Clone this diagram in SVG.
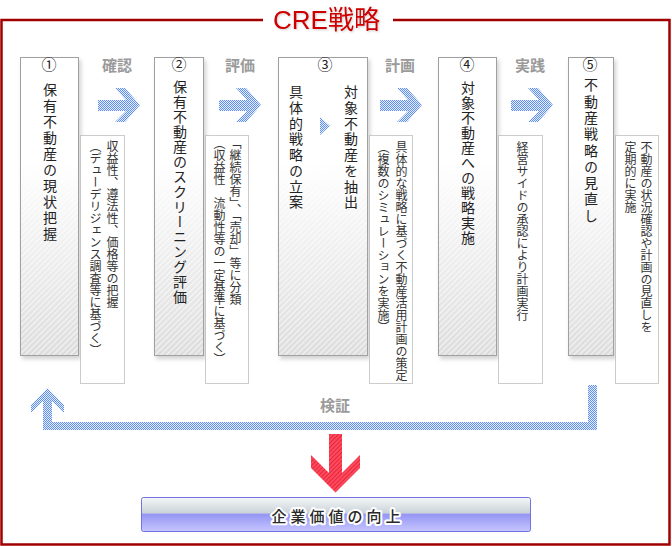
<svg xmlns="http://www.w3.org/2000/svg" width="672" height="546" viewBox="0 0 672 546">
<style>
.frame{fill:none;stroke:#a00000;stroke-width:2.5}
.title{font-family:"Liberation Sans","Noto Sans CJK JP",sans-serif;font-size:26px;fill:#cc0000}
.box{stroke:#a0a0a0;stroke-width:1}
.num{font-family:"Noto Sans CJK JP",sans-serif;font-size:15px;fill:#222;text-anchor:middle}
.vt{font-family:"Liberation Sans","Noto Sans CJK JP",sans-serif;font-size:14px;fill:#222;writing-mode:vertical-rl}
.note{fill:#fff;stroke:#999;stroke-width:1;stroke-dasharray:1 1}
.nt{font-family:"Liberation Sans","Noto Sans CJK JP",sans-serif;font-size:12px;fill:#333;writing-mode:vertical-rl}
.lbl{font-family:"Liberation Sans","Noto Sans CJK JP",sans-serif;font-size:15px;font-weight:bold;fill:#9a9a9a;text-anchor:middle}
.blue{fill:url(#dither)}
.btn-t{font-family:"Liberation Sans","Noto Sans CJK JP",sans-serif;font-size:15px;font-weight:500;fill:#2a2a2a;text-anchor:middle;letter-spacing:4px;stroke:#fff;stroke-width:4px;paint-order:stroke;stroke-linejoin:round}
</style>
<defs>
<pattern id="dither" width="2" height="2" patternUnits="userSpaceOnUse">
<rect width="2" height="2" fill="#e6eeff"/>
<rect width="1" height="1" fill="#5e8ef2"/>
<rect x="1" y="1" width="1" height="1" fill="#5e8ef2"/>
</pattern>
<pattern id="redstripe" width="3" height="3" patternUnits="userSpaceOnUse" patternTransform="rotate(45)">
<rect width="3" height="3" fill="#ff4a5c"/>
<rect width="0.9" height="3" fill="#e0213a"/>
</pattern>
<pattern id="hatch" width="4" height="4" patternUnits="userSpaceOnUse" patternTransform="rotate(45)">
<rect width="4" height="4" fill="#dcdcdc"/>
<rect width="1.3" height="4" fill="#f2f2f2"/>
</pattern>
<linearGradient id="fadeG" x1="0" y1="0" x2="0" y2="1">
<stop offset="0" stop-color="#000"/>
<stop offset="0.35" stop-color="#000"/>
<stop offset="1" stop-color="#fff"/>
</linearGradient>
<mask id="fade" maskContentUnits="objectBoundingBox">
<rect width="1" height="1" fill="url(#fadeG)"/>
</mask>
<linearGradient id="btnG" x1="0" y1="0" x2="0" y2="1">
<stop offset="0" stop-color="#f4f7f8"/>
<stop offset="0.45" stop-color="#cbd3d9"/>
<stop offset="0.5" stop-color="#9696f4"/>
<stop offset="1" stop-color="#c6c6ff"/>
</linearGradient>
<filter id="sh" x="-20%" y="-5%" width="150%" height="115%">
<feDropShadow dx="2" dy="3" stdDeviation="2" flood-color="#000" flood-opacity="0.18"/>
</filter>
<filter id="tsh" x="-10%" y="-20%" width="120%" height="150%">
<feDropShadow dx="1" dy="1" stdDeviation="1" flood-color="#000" flood-opacity="0.2"/>
</filter>
</defs>

<rect width="672" height="546" fill="#fff"/>

<g id="frame">
<path class="frame" d="M263,20 H1.5 V544.5 H669.5 V20 H393"/>
<text class="title" x="273" y="29" filter="url(#tsh)">CRE戦略</text>
</g>

<g id="connectors">
<path class="blue" d="M98,100 H126 L115,88 H125 L140,105 L125,122 H115 L126,111 H98 Z"/>
<path class="blue" d="M219,100 H247 L236,88 H246 L261,105 L246,122 H236 L247,111 H219 Z"/>
<path class="blue" d="M380,100 H408 L397,88 H407 L422,105 L407,122 H397 L408,111 H380 Z"/>
<path class="blue" d="M511,100 H539 L528,88 H538 L553,105 L538,122 H528 L539,111 H511 Z"/>
<path class="blue" d="M47.5,388 L64,405 V413 L52,401 V422 H588 V385 H597 V430 H43 V401 L31,413 V405 Z"/>
<path fill="url(#redstripe)" d="M329,434 H342 V473 L360,455 V468 L335.5,492.5 L311,468 V455 L329,473 Z"/>
<text class="lbl" x="117" y="71">確認</text>
<text class="lbl" x="240" y="71">評価</text>
<text class="lbl" x="400" y="71">計画</text>
<text class="lbl" x="530" y="71">実践</text>
<text class="lbl" x="335" y="411">検証</text>
</g>

<g id="step1">
<g filter="url(#sh)"><rect class="box" x="20.5" y="57.5" width="58" height="298" fill="#fff"/></g>
<rect x="21" y="58" width="57" height="297" fill="url(#hatch)" mask="url(#fade)"/>
<text class="num" x="49" y="70">①</text>
<text class="vt" x="49" y="83" letter-spacing="2">保有不動産の現状把握</text>
</g>
<g id="note1">
<rect class="note" x="80.5" y="135.5" width="44" height="248"/>
<text class="nt" x="111" y="140">収益性、遵法性、価格等の把握</text>
<text class="nt" x="94" y="140">（デューデリジェンス調査等に基づく）</text>
</g>

<g id="step2">
<g filter="url(#sh)"><rect class="box" x="154.5" y="57.5" width="49" height="298" fill="#fff"/></g>
<rect x="155" y="58" width="48" height="297" fill="url(#hatch)" mask="url(#fade)"/>
<text class="num" x="179" y="70">②</text>
<text class="vt" x="179" y="80" letter-spacing="1">保有不動産のスクリーニング評価</text>
</g>
<g id="note2">
<rect class="note" x="205.5" y="135.5" width="43" height="248"/>
<text class="nt" x="234" y="137">「継続保有」、「売却」等に分類</text>
<text class="nt" x="218" y="137">（収益性　流動性等の一定基準に基づく）</text>
</g>

<g id="step3">
<g filter="url(#sh)"><rect class="box" x="278.5" y="57.5" width="89" height="298" fill="#fff"/></g>
<rect x="279" y="58" width="88" height="297" fill="url(#hatch)" mask="url(#fade)"/>
<text class="num" x="325" y="70">③</text>
<text class="vt" x="295" y="85" letter-spacing="1.7">具体的戦略の立案</text>
<path class="blue" d="M320,117 L330,126 L320,135 Z"/>
<text class="vt" x="350" y="85" letter-spacing="1.7">対象不動産を抽出</text>
</g>
<g id="note3">
<rect class="note" x="369.5" y="135.5" width="43" height="248"/>
<text class="nt" x="400" y="141">具体的な戦略に基づく不動産活用計画の策定</text>
<text class="nt" x="382" y="141">（複数のシミュレーションを実施）</text>
</g>

<g id="step4">
<g filter="url(#sh)"><rect class="box" x="438.5" y="57.5" width="58" height="298" fill="#fff"/></g>
<rect x="439" y="58" width="57" height="297" fill="url(#hatch)" mask="url(#fade)"/>
<text class="num" x="467" y="70">④</text>
<text class="vt" x="467" y="81" letter-spacing="1">対象不動産への戦略実施</text>
</g>
<g id="note4">
<rect class="note" x="498.5" y="135.5" width="44" height="248"/>
<text class="nt" x="521" y="141">経営サイドの承認により計画実行</text>
</g>

<g id="step5">
<g filter="url(#sh)"><rect class="box" x="568.5" y="57.5" width="45" height="298" fill="#fff"/></g>
<rect x="569" y="58" width="44" height="297" fill="url(#hatch)" mask="url(#fade)"/>
<text class="num" x="590" y="70">⑤</text>
<text class="vt" x="590" y="78" letter-spacing="2.3">不動産戦略の見直し</text>
</g>
<g id="note5">
<rect class="note" x="615.5" y="135.5" width="43" height="248"/>
<text class="nt" x="645" y="141">不動産の状況確認や計画の見直しを</text>
<text class="nt" x="629" y="141">定期的に実施</text>
</g>

<g id="result">
<rect x="141.5" y="497.5" width="389" height="34" rx="2" fill="url(#btnG)" stroke="#7272e0"/>
<text class="btn-t" x="338" y="522">企業価値の向上</text>
</g>
</svg>
